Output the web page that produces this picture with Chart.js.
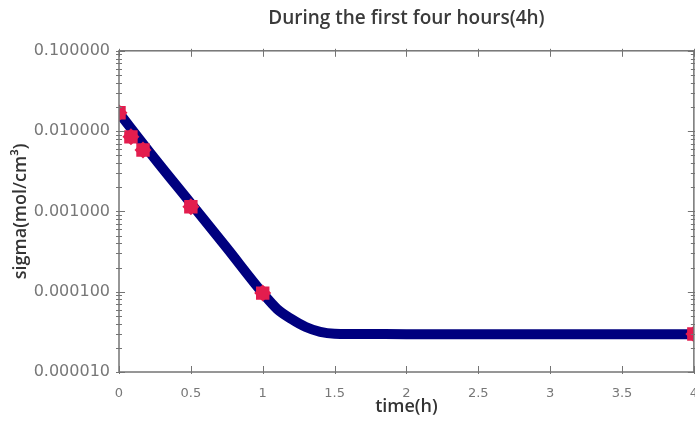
<!doctype html>
<html lang="en">
	<head>
		<meta charset="UTF-8" />
		<title>During the first four hours(4h)</title>
		<script src="https://cdn.jsdelivr.net/npm/chart.js"></script>
		<style>
			body {
				margin: 0;
				background: #fff;
				overflow: hidden;
			}
			#chart {
				display: block;
			}
		</style>
	</head>
	<body>
		<canvas id="chart" width="712" height="426"></canvas>

		<script>
			// curve (time in h, sigma in mol/cm³)
			const curveTime = [0, 0.25, 0.5, 0.75, 1.0, 1.1, 1.2, 1.3, 1.4, 1.5, 1.75, 2, 2.5, 3, 3.5, 4]
			const curveSigma = [
				0.0169, 0.00451, 0.00126, 0.000351, 0.000096, 0.000061, 0.0000457, 0.0000363,
				0.0000316, 0.0000300, 0.0000297, 0.0000296, 0.0000296, 0.0000296, 0.0000296, 0.0000296
			]

			// measured points (red markers)
			const markTime = [0, 0.083, 0.167, 0.5, 1.0, 4]
			const markSigma = [0.0169, 0.00848, 0.00583, 0.00114, 0.000096, 0.0000297]

			// tick positions
			const xTicks = [0, 0.5, 1, 1.5, 2, 2.5, 3, 3.5, 4]
			const yDecades = [0.00001, 0.0001, 0.001, 0.01, 0.1]
			const yMinor = [2, 3, 4, 5, 6, 7, 8, 9]

			const curve = curveTime.map((t, i) => ({ x: t, y: curveSigma[i] }))
			const marks = markTime.map((t, i) => ({ x: t, y: markSigma[i] }))

			const yTickList = []
			yDecades.forEach((d, i) => {
				yTickList.push({ value: d, major: true })
				if (i < yDecades.length - 1) yMinor.forEach((m) => yTickList.push({ value: d * m }))
			})

			// box around the plot + small ticks on all four sides
			const frameTicks = {
				id: 'frameTicks',
				afterDraw(chart) {
					const { ctx, chartArea: a } = chart
					const xs = chart.scales.x
					const ys = chart.scales.y
					ctx.save()
					ctx.strokeStyle = '#747474'
					ctx.lineWidth = 1.5
					ctx.strokeRect(a.left, a.top, a.right - a.left, a.bottom - a.top)
					ctx.lineWidth = 1
					ctx.beginPath()
					xs.ticks.forEach((t) => {
						const px = Math.round(xs.getPixelForValue(t.value)) + 0.5
						ctx.moveTo(px, a.bottom + 2)
						ctx.lineTo(px, a.bottom - 6)
						ctx.moveTo(px, a.top - 2)
						ctx.lineTo(px, a.top + 6)
					})
					ys.ticks.forEach((t) => {
						const py = Math.round(ys.getPixelForValue(t.value)) + 0.5
						const len = t.major ? 6 : 3
						ctx.moveTo(a.left - 3, py)
						ctx.lineTo(a.left + len, py)
						ctx.moveTo(a.right + 3, py)
						ctx.lineTo(a.right - len, py)
					})
					ctx.stroke()
					ctx.restore()
				}
			}

			new Chart(document.getElementById('chart').getContext('2d'), {
				type: 'line',
				data: {
					datasets: [
						{
							label: 'measured',
							data: marks,
							showLine: false,
							pointStyle: 'rect',
							pointRadius: 9.5,
							pointBackgroundColor: '#e31d4e',
							pointBorderWidth: 0
						},
						{
							label: 'measured2',
							data: marks,
							showLine: false,
							pointStyle: 'rectRot',
							pointRadius: 8.5,
							pointBackgroundColor: '#e31d4e',
							pointBorderWidth: 0
						},
						{
							label: 'sigma',
							data: curve,
							borderColor: '#00007f',
							borderWidth: 10,
							pointRadius: 0,
							cubicInterpolationMode: 'monotone',
							borderCapStyle: 'round',
							fill: false
						}
					]
				},
				options: {
					responsive: false,
					animation: false,
					layout: { padding: { left: 10, right: 0, top: 0, bottom: 8 } },
					plugins: {
						legend: { display: false },
						tooltip: { enabled: false },
						title: {
							display: true,
							fullSize: false,
							text: 'During the first four hours(4h)',
							color: '#3a3a3a',
							font: { family: 'Open Sans', size: 19, weight: '600' },
							padding: { top: 7, bottom: 21 }
						}
					},
					scales: {
						x: {
							type: 'linear',
							min: 0,
							max: 4,
							afterBuildTicks: (s) => {
								s.ticks = xTicks.map((v) => ({ value: v }))
							},
							afterFit: (s) => {
								s.height = 46
							},
							grid: { display: false, drawTicks: false, tickLength: 0 },
							border: { display: false },
							ticks: {
								color: '#777',
								font: { family: 'DejaVu Sans', size: 13 },
								padding: 14,
								maxRotation: 0,
								autoSkip: false,
								callback: (v) => String(v)
							},
							title: {
								display: true,
								text: 'time(h)',
								color: '#333',
								font: { family: 'Open Sans', size: 18, weight: '600' },
								padding: { top: 0, bottom: 0 }
							}
						},
						y: {
							type: 'logarithmic',
							min: 0.00001,
							max: 0.1,
							afterBuildTicks: (s) => {
								s.ticks = yTickList.map((t) => ({ ...t }))
							},
							afterFit: (s) => {
								s.width = 109
							},
							grid: { display: false, drawTicks: false, tickLength: 0 },
							border: { display: false },
							ticks: {
								color: '#777',
								font: { family: 'DejaVu Sans', size: 16 },
								padding: 9,
								autoSkip: false,
								callback: (v, i, ticks) => (ticks[i].major ? Number(v).toFixed(6) : '')
							},
							title: {
								display: true,
								text: 'sigma(mol/cm³)',
								color: '#333',
								font: { family: 'Open Sans', size: 18, weight: '600' },
								padding: { top: 0, bottom: 0 }
							}
						}
					}
				},
				plugins: [frameTicks]
			})
		</script>
	</body>
</html>
